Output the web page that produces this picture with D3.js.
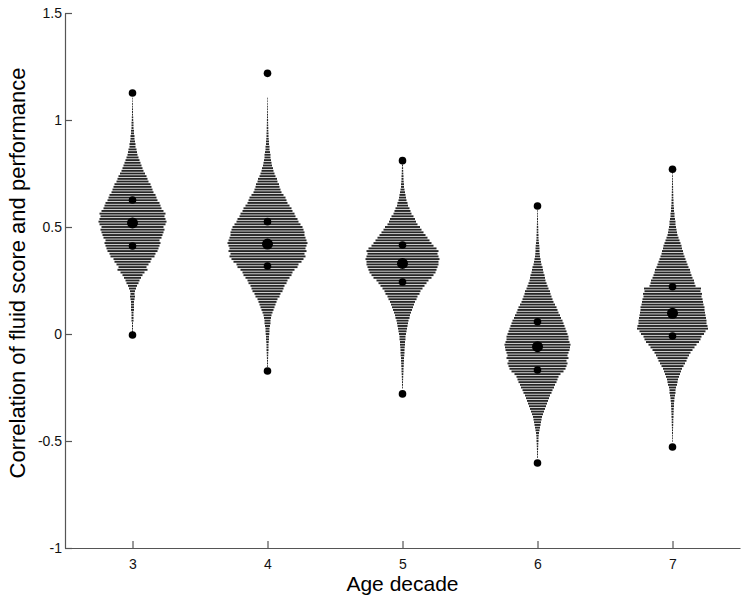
<!DOCTYPE html>
<html>
<head>
<meta charset="utf-8">
<script src="https://cdn.jsdelivr.net/npm/d3@7"></script>
<style>
  body { margin: 0; background: #fff; }
  svg { display: block; font-family: "Liberation Sans", Arial, sans-serif; }
  .axis path, .axis line { stroke: #555; stroke-width: 1.2; }
  .axis text { fill: #111; font-size: 14px; }
</style>
</head>
<body>
<svg id="chart" width="751" height="603"></svg>
<script>
const width = 751;
const height = 603;

// age decades on the x axis
const decades = [3, 4, 5, 6, 7];
const yTicks = [-1, -0.5, 0, 0.5, 1, 1.5];

// histogram bins (value step) and the centre of the first bin for each decade
const binStep = 0.0125;
const binStart = [0.0125, -0.15, -0.25, -0.575, -0.5];

// bin densities, bottom to top
const density3 = [0.5, 0.5, 0.5, 0.5, 1, 1, 1, 1, 1.5, 1.5, 1.5, 1.5, 2, 2.5, 2, 2.5,
  3.5, 4.5, 6, 7, 8.5, 10, 12, 15, 14, 16, 18, 19, 22, 23, 25, 26, 27, 28, 27, 29,
  30, 31, 32, 31, 33, 34, 33, 32, 33, 31, 29, 28, 27, 25, 24, 23, 21, 20, 19, 18,
  16, 15, 14, 12.5, 11, 10, 9, 8, 7, 6, 5, 4.5, 4, 3, 3, 2.5, 2, 2, 1.5, 1.5,
  1, 1, 1, 0.7, 0.7, 0.5, 0.5, 0.5, 0.4, 0.4, 0.3, 0.3];
const density4 = [0.4, 0.5, 0.5, 0.6, 0.7,
  0.8, 1, 1, 1, 1.2, 1.5, 1.5, 1.8,
  2, 2, 2.5, 3, 3, 3.5, 4, 5,
  6, 7, 8, 9, 10, 12, 13, 15,
  16, 17, 19, 20, 22, 24, 25, 27,
  30, 31, 34, 36, 38, 37, 39, 38,
  39, 40, 39, 38, 37, 37, 36, 35,
  33, 31, 30, 28, 27, 25, 24, 22,
  20, 19, 18, 16, 14, 13, 12, 11.5,
  10, 9.5, 8, 7, 6, 5.5, 4.5, 4,
  3.5, 3, 3, 2.5, 2, 2, 1.5, 1.5,
  1.2, 1, 1, 0.8, 0.8, 0.7, 0.6, 0.6,
  0.5, 0.5, 0.4, 0.4, 0.4, 0.3, 0.3, 0.3];
const density5 = [0.4, 0.5, 0.5, 0.6, 0.7,
  0.8, 1, 1, 1.2, 1.3, 1.5, 1.5, 1.8,
  2, 2, 2.2, 2.5, 2.5, 3, 3, 3.5,
  4, 4.5, 5, 5.5, 6, 7, 7.5, 8.5,
  9.5, 10.5, 11.5, 12.5, 14, 15, 17, 18,
  20, 22, 24, 26, 29, 31, 33, 34,
  35, 36, 36, 37, 36, 35, 36, 34,
  31, 29, 27, 25, 23, 21, 19, 17.5,
  15, 13.5, 12.5, 11, 9, 8, 7, 5.5,
  5, 4, 3.5, 3, 2.5, 2, 1.5, 1.5,
  1.2, 1, 1, 0.8, 0.7, 0.6, 0.5];
const density6 = [0.4, 0.5, 0.5, 0.6, 0.7, 0.8, 1, 1,
  1.2, 1.5, 2, 2.5, 3, 3.5, 4, 4.5,
  5.5, 6.5, 7.5, 8.5, 9.5, 10.5, 11.5, 12.5,
  14, 15, 16.5, 17.5, 19, 20, 21, 23,
  26, 28, 29, 30, 29, 31, 30, 31,
  32, 32.5, 33, 32, 31, 31, 30,
  29, 28, 27, 26, 25, 23.5, 22.5, 21,
  20, 19, 17.5, 16, 15, 14, 13, 12.5,
  11, 10, 9, 8, 7.5, 7, 6, 5.5,
  5, 4, 3.5, 3, 2.5, 2.2, 2, 2,
  1.8, 1.5, 1.2, 1, 1, 0.8, 0.8, 0.7,
  0.6, 0.5, 0.5, 0.4, 0.4, 0.3];
const density7 = [0.3, 0.4, 0.4, 0.5, 0.5, 0.6, 0.7, 0.8,
  0.8, 1, 1, 1.2, 1.2, 1.5, 1.5, 1.8,
  2, 2.5, 3, 3, 3.5, 4.5, 5, 5.5,
  6.5, 7.5, 8.5, 9.5, 11, 12.5, 14, 15,
  16.5, 18, 20, 22, 24, 26.5, 28, 29,
  31.5, 33, 35.5, 35, 34, 34, 33.5, 33,
  32.5, 32, 32, 31, 30.5, 30, 29, 29.5,
  28, 28.5, 23, 22, 21.5, 20, 19, 18,
  17.5, 16, 15, 14, 13, 12, 11, 10.5,
  9.5, 9, 8, 7, 6, 5, 4.5, 4,
  3.5, 3, 3, 2.5, 2, 2, 1.5, 1.5,
  1.2, 1, 1, 0.8, 0.8, 0.7, 0.6, 0.6, 0.5, 0.5, 0.4, 0.4, 0.3];
const densities = [density3, density4, density5, density6, density7];

// summary points per decade
const minVals  = [-0.005, -0.173, -0.28, -0.603, -0.528];
const q1Vals   = [0.411, 0.318, 0.243, -0.168, -0.009];
const meanVals = [0.519, 0.42, 0.33, -0.059, 0.097];
const q3Vals   = [0.626, 0.525, 0.416, 0.057, 0.221];
const maxVals  = [1.126, 1.218, 0.81, 0.598, 0.77];

const svg = d3.select("#chart");

const x = d3.scaleLinear().domain([2.5, 7.5]).range([65, 740]);
const y = d3.scaleLinear().domain([-1, 1.5]).range([548, 13]);
const w = d3.scaleLinear().domain([0, 40]).range([0, 40]);

// bars of each bean
decades.forEach((dec, i) => {
    const bins = densities[i].map((d, j) => ({ v: binStart[i] + j * binStep, d: d }));
    svg.append("g")
        .selectAll("rect")
        .data(bins)
        .enter()
        .append("rect")
        .attr("x", b => x(dec) - w(b.d))
        .attr("width", b => 2 * w(b.d))
        .attr("y", b => y(b.v) - 0.95)
        .attr("height", 1.9)
        .attr("fill", "#262626");
});

// dots
const dots = [];
decades.forEach((dec, i) => {
    dots.push({ dec: dec, v: minVals[i], big: false });
    dots.push({ dec: dec, v: q1Vals[i], big: false });
    dots.push({ dec: dec, v: meanVals[i], big: true });
    dots.push({ dec: dec, v: q3Vals[i], big: false });
    dots.push({ dec: dec, v: maxVals[i], big: false });
});
svg.append("g")
    .selectAll("circle")
    .data(dots)
    .enter()
    .append("circle")
    .attr("cx", d => x(d.dec))
    .attr("cy", d => y(d.v))
    .attr("r", d => d.big ? 5.5 : 3.8)
    .attr("fill", "#000");

// axes
svg.append("g")
    .attr("class", "axis")
    .attr("transform", "translate(65,0)")
    .call(d3.axisLeft(y).tickValues(yTicks).tickFormat(d => String(d))
        .tickSizeInner(-7).tickSizeOuter(0).tickPadding(3));

svg.append("g")
    .attr("class", "axis")
    .attr("transform", "translate(0,548)")
    .call(d3.axisBottom(x).tickValues(decades).tickFormat(d => String(d))
        .tickSizeInner(-7).tickSizeOuter(0).tickPadding(11));

// labels
svg.append("text")
    .attr("x", x(5))
    .attr("y", 591)
    .attr("text-anchor", "middle")
    .attr("font-size", 21)
    .attr("fill", "#000")
    .text("Age decade");

svg.append("text")
    .attr("transform", "translate(25,273) rotate(-90)")
    .attr("text-anchor", "middle")
    .attr("font-size", 22)
    .attr("fill", "#000")
    .text("Correlation of fluid score and performance");
</script>
</body>
</html>
